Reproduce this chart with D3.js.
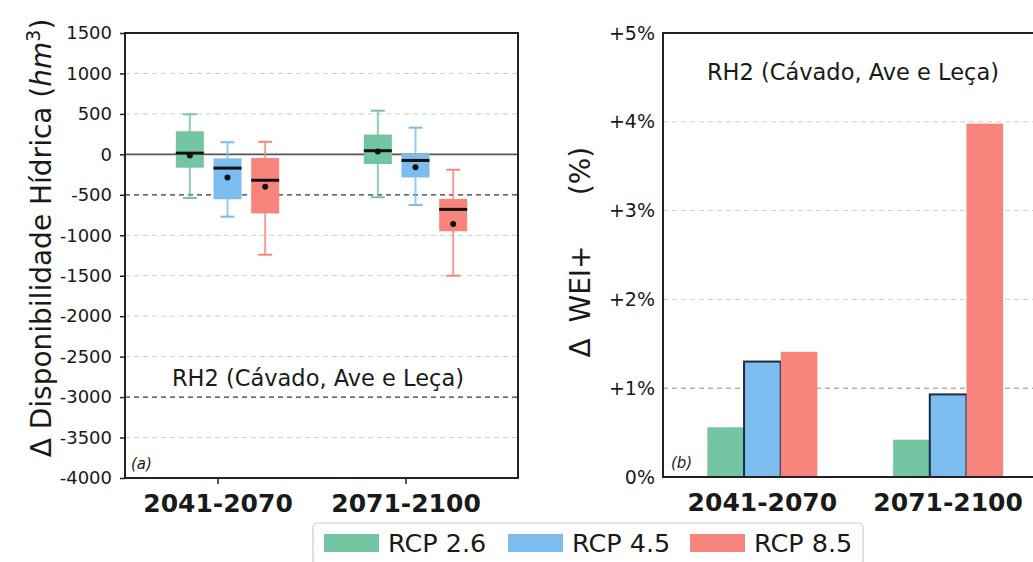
<!DOCTYPE html>
<html>
<head>
<meta charset="utf-8">
<script src="https://cdn.jsdelivr.net/npm/d3@7"></script>
<style>
  body { margin: 0; background: #fff; }
  text { font-family: "DejaVu Sans", sans-serif; fill: #1a1a1a; }
</style>
</head>
<body>
<svg id="chart" width="1033" height="562"></svg>
<script>
const periods = ["2041-2070", "2071-2100"];
const scenarios = ["RCP 2.6", "RCP 4.5", "RCP 8.5"];
const colors = ["#74c5a3", "#7dbcee", "#f8857d"];

// boxplot stats per period, per scenario (hm3)
const whiskerLow = [[-540, -770, -1240], [-530, -625, -1500]];
const q1 = [[-165, -555, -730], [-120, -285, -950]];
const median = [[15, -170, -320], [45, -75, -680]];
const mean = [[-15, -285, -400], [35, -160, -860]];
const q3 = [[285, -50, -45], [245, 5, -550]];
const whiskerHigh = [[495, 150, 155], [540, 330, -190]];

// change of WEI+ (%)
const weiChange = [[0.56, 1.30, 1.41], [0.42, 0.93, 3.98]];

const leftTicks = d3.range(-4000, 1501, 500);
const rightTicks = [0, 1, 2, 3, 4, 5];
const regionLabel = "RH2 (Cávado, Ave e Leça)";

const svg = d3.select("#chart");
svg.append("rect").attr("width", 1033).attr("height", 562).attr("fill", "#fff");

// ---------- panel (a) ----------
const L = { left: 125, right: 518, top: 33, bottom: 478 };
const xA = d3.scaleBand().domain(periods).range([124, 500]);
const subA = d3.scaleBand().domain(scenarios).range([-47, 66]);
const yA = d3.scaleLinear().domain([-4000, 1500]).range([L.bottom, L.top]);

const gA = svg.append("g");

// grid lines
gA.selectAll("line.grid")
    .data(leftTicks.filter(d => d > -4000 && d < 1500 && d !== 0))
    .join("line")
    .attr("x1", L.left)
    .attr("x2", L.right)
    .attr("y1", d => yA(d))
    .attr("y2", d => yA(d))
    .attr("stroke", d => (d === -500 || d === -3000) ? "#3a3a3a" : "#cfcfcf")
    .attr("stroke-width", d => (d === -500 || d === -3000) ? 1.3 : 1)
    .attr("stroke-dasharray", "5,4");

gA.append("line")
    .attr("x1", L.left).attr("x2", L.right)
    .attr("y1", yA(0)).attr("y2", yA(0))
    .attr("stroke", "#555").attr("stroke-width", 1.6);

// boxes
periods.forEach((p, pi) => {
    scenarios.forEach((s, si) => {
        const cx = xA(p) + xA.bandwidth() / 2 + subA(s) + subA.bandwidth() / 2;
        const bw = 28;
        const g = gA.append("g");
        g.append("line")
            .attr("x1", cx).attr("x2", cx)
            .attr("y1", yA(whiskerLow[pi][si])).attr("y2", yA(whiskerHigh[pi][si]))
            .attr("stroke", colors[si]).attr("stroke-width", 2).attr("opacity", 0.8);
        [whiskerLow[pi][si], whiskerHigh[pi][si]].forEach(v => {
            g.append("line")
                .attr("x1", cx - 7).attr("x2", cx + 7)
                .attr("y1", yA(v)).attr("y2", yA(v))
                .attr("stroke", colors[si]).attr("stroke-width", 2);
        });
        g.append("rect")
            .attr("x", cx - bw / 2)
            .attr("y", yA(q3[pi][si]))
            .attr("width", bw)
            .attr("height", yA(q1[pi][si]) - yA(q3[pi][si]))
            .attr("fill", colors[si]);
        g.append("line")
            .attr("x1", cx - bw / 2).attr("x2", cx + bw / 2)
            .attr("y1", yA(median[pi][si])).attr("y2", yA(median[pi][si]))
            .attr("stroke", "#111").attr("stroke-width", 3);
        g.append("circle")
            .attr("cx", cx).attr("cy", yA(mean[pi][si]))
            .attr("r", 3).attr("fill", "#111");
    });
});

// frame
gA.append("rect")
    .attr("x", L.left).attr("y", L.top)
    .attr("width", L.right - L.left).attr("height", L.bottom - L.top)
    .attr("fill", "none").attr("stroke", "#222").attr("stroke-width", 2);

const axisLeftA = gA.append("g")
    .attr("transform", `translate(${L.left},0)`)
    .call(d3.axisLeft(yA).tickValues(leftTicks).tickSize(5).tickPadding(8).tickFormat(d => String(d)));
axisLeftA.select(".domain").remove();
axisLeftA.selectAll("text").attr("font-size", 18).attr("font-family", "DejaVu Sans").attr("fill", "#1a1a1a");
axisLeftA.selectAll("line").attr("stroke", "#222").attr("stroke-width", 1.5);

const axisBottomA = gA.append("g")
    .attr("transform", `translate(0,${L.bottom})`)
    .call(d3.axisBottom(xA).tickSize(6).tickPadding(10));
axisBottomA.select(".domain").remove();
axisBottomA.selectAll("text")
    .attr("font-size", 25).attr("font-weight", "bold")
    .attr("font-family", "DejaVu Sans").attr("fill", "#111");
axisBottomA.selectAll("line").attr("stroke", "#222").attr("stroke-width", 1.5);

gA.append("text")
    .attr("x", 318).attr("y", 386)
    .attr("text-anchor", "middle")
    .attr("font-size", 22.5)
    .attr("fill", "#222")
    .text(regionLabel);

gA.append("text")
    .attr("x", 131).attr("y", 469)
    .attr("font-size", 15).attr("font-style", "italic")
    .text("(a)");

const ylabA = gA.append("text")
    .attr("transform", "translate(51,238) rotate(-90)")
    .attr("text-anchor", "middle")
    .attr("font-size", 28);
ylabA.append("tspan").text("Δ Disponibilidade Hídrica  (");
ylabA.append("tspan").attr("font-style", "italic").text("hm");
ylabA.append("tspan").attr("font-size", 19).attr("dy", -11).text("3");
ylabA.append("tspan").attr("dy", 11).text(")");

// ---------- panel (b) ----------
const R = { left: 663, right: 1045, top: 33, bottom: 477 };
const xB = d3.scaleBand().domain(periods).range([669.5, 1041]);
const subB = d3.scaleBand().domain(scenarios).range([-55, 55]);
const yB = d3.scaleLinear().domain([0, 5]).range([R.bottom, R.top]);

const gB = svg.append("g");

gB.selectAll("line.grid")
    .data(rightTicks.filter(d => d > 0 && d < 5))
    .join("line")
    .attr("x1", R.left).attr("x2", R.right)
    .attr("y1", d => yB(d)).attr("y2", d => yB(d))
    .attr("stroke", d => d === 1 ? "#8a8a8a" : "#cfcfcf")
    .attr("stroke-width", 1)
    .attr("stroke-dasharray", "5,4");

periods.forEach((p, pi) => {
    gB.selectAll(null)
        .data(weiChange[pi])
        .join("rect")
        .attr("x", (d, si) => xB(p) + xB.bandwidth() / 2 + subB(scenarios[si]))
        .attr("y", d => yB(d))
        .attr("width", subB.bandwidth())
        .attr("height", d => yB(0) - yB(d))
        .attr("fill", (d, si) => colors[si])
        .attr("stroke", (d, si) => si === 1 ? "#1c2c40" : "none")
        .attr("stroke-width", 2);
});

gB.append("path")
    .attr("d", `M${R.right},${R.top}H${R.left}V${R.bottom}H${R.right}`)
    .attr("fill", "none").attr("stroke", "#222").attr("stroke-width", 2);

const axisLeftB = gB.append("g")
    .attr("transform", `translate(${R.left},0)`)
    .call(d3.axisLeft(yB).tickValues(rightTicks).tickSize(0).tickPadding(8)
        .tickFormat(d => d === 0 ? "0%" : `+${d}%`));
axisLeftB.select(".domain").remove();
axisLeftB.selectAll("text").attr("font-size", 19).attr("font-family", "DejaVu Sans").attr("fill", "#1a1a1a");

const axisBottomB = gB.append("g")
    .attr("transform", `translate(0,${R.bottom})`)
    .call(d3.axisBottom(xB).tickSize(0).tickPadding(16));
axisBottomB.select(".domain").remove();
axisBottomB.selectAll("text")
    .attr("font-size", 25).attr("font-weight", "bold")
    .attr("font-family", "DejaVu Sans").attr("fill", "#111");

gB.append("text")
    .attr("x", 853).attr("y", 80)
    .attr("text-anchor", "middle")
    .attr("font-size", 22.5)
    .attr("fill", "#222")
    .text(regionLabel);

gB.append("text")
    .attr("x", 671).attr("y", 468)
    .attr("font-size", 15).attr("font-style", "italic")
    .text("(b)");

[["Δ", 348], ["WEI+", 284], ["(%)", 171]].forEach(([t, y]) => {
    gB.append("text")
        .attr("transform", `translate(590,${y}) rotate(-90)`)
        .attr("text-anchor", "middle")
        .attr("font-size", 28)
        .text(t);
});

// ---------- legend ----------
const legend = svg.append("g");
legend.append("rect")
    .attr("x", 313).attr("y", 523)
    .attr("width", 550).attr("height", 50)
    .attr("rx", 4)
    .attr("fill", "#fff").attr("stroke", "#cccccc").attr("stroke-width", 1.2);

const legendX = [324, 508, 690];
scenarios.forEach((s, i) => {
    legend.append("rect")
        .attr("x", legendX[i]).attr("y", 534)
        .attr("width", 55).attr("height", 18)
        .attr("fill", colors[i]);
    legend.append("text")
        .attr("x", legendX[i] + 64).attr("y", 552)
        .attr("font-size", 25.5)
        .text(s);
});
</script>
</body>
</html>
